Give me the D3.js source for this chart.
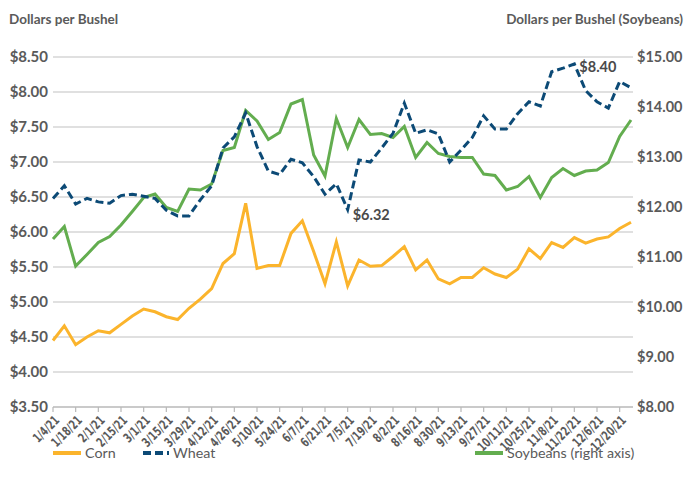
<!DOCTYPE html>
<html>
<head>
<meta charset="utf-8">
<script src="https://cdn.jsdelivr.net/npm/d3@7"></script>
<style>
  body { margin: 0; background: #fff; }
  text { font-family: Lato, "Open Sans", sans-serif; }
</style>
</head>
<body>
<div id="graph"></div>
<script>
var weeks = ["1/4/21","1/11/21","1/18/21","1/25/21","2/1/21","2/8/21","2/15/21","2/22/21",
  "3/1/21","3/8/21","3/15/21","3/22/21","3/29/21","4/5/21","4/12/21","4/19/21","4/26/21",
  "5/3/21","5/10/21","5/17/21","5/24/21","5/31/21","6/7/21","6/14/21","6/21/21","6/28/21",
  "7/5/21","7/12/21","7/19/21","7/26/21","8/2/21","8/9/21","8/16/21","8/23/21","8/30/21",
  "9/6/21","9/13/21","9/20/21","9/27/21","10/4/21","10/11/21","10/18/21","10/25/21",
  "11/1/21","11/8/21","11/15/21","11/22/21","11/29/21","12/6/21","12/13/21","12/20/21","12/27/21"];

var corn = [4.45,4.66,4.39,4.50,4.59,4.56,4.68,4.80,4.90,4.86,4.79,4.75,4.91,5.04,5.19,5.55,5.69,
  6.41,5.48,5.52,5.52,5.98,6.16,5.72,5.26,5.86,5.23,5.60,5.51,5.52,5.65,5.79,5.46,5.60,5.33,
  5.26,5.35,5.35,5.49,5.40,5.35,5.47,5.76,5.62,5.85,5.78,5.92,5.84,5.90,5.93,6.05,6.14];

var wheat = [6.48,6.66,6.40,6.48,6.43,6.41,6.52,6.54,6.51,6.48,6.31,6.23,6.23,6.46,6.66,7.20,7.36,
  7.70,7.22,6.87,6.82,7.04,6.99,6.79,6.54,6.69,6.32,7.03,7.00,7.20,7.41,7.84,7.41,7.46,7.40,
  7.00,7.17,7.35,7.66,7.47,7.47,7.69,7.86,7.80,8.29,8.34,8.40,8.02,7.86,7.77,8.15,8.06];

var soybeans = [11.36,11.61,10.82,11.05,11.29,11.41,11.64,11.91,12.19,12.26,11.99,11.91,12.36,12.34,
  12.46,13.13,13.19,13.93,13.72,13.35,13.49,14.06,14.15,13.04,12.62,13.77,13.19,13.75,13.45,13.47,
  13.39,13.61,12.99,13.29,13.07,13.01,12.99,12.99,12.66,12.63,12.34,12.41,12.61,12.19,12.59,12.77,
  12.63,12.72,12.74,12.89,13.41,13.74];

var leftTicks = [3.5,4,4.5,5,5.5,6,6.5,7,7.5,8,8.5];
var rightTicks = [8,9,10,11,12,13,14,15];
var callouts = [{series: "wheat", index: 26, text: "$6.32"}, {series: "wheat", index: 46, text: "$8.40"}];

var w = 684, h = 486;
var plotL = 53, plotR = 633, plotT = 57, plotB = 407;

var vis = d3.select("#graph").append("svg")
  .attr("width", w)
  .attr("height", h);

var x = d3.scalePoint().domain(weeks).range([plotL, 631]);
var y = d3.scaleLinear().domain([3.5, 8.5]).range([plotB, plotT]);
var y2 = d3.scaleLinear().domain([8, 15]).range([plotB, plotT]);

// gridlines
vis.selectAll(".grid")
  .data(leftTicks)
  .enter()
  .append("line")
  .attr("x1", plotL)
  .attr("x2", plotR)
  .attr("y1", function(d) { return y(d); })
  .attr("y2", function(d) { return y(d); })
  .style("stroke", function(d) { return d == 3.5 ? "#b8b8b8" : "#d6d6d6"; })
  .style("stroke-width", 1.6);

// left axis labels
vis.selectAll(".ly")
  .data(leftTicks)
  .enter()
  .append("text")
  .attr("x", 48)
  .attr("y", function(d) { return y(d); })
  .attr("dy", "0.35em")
  .attr("text-anchor", "end")
  .style("font-size", "15px")
  .style("font-weight", "bold")
  .style("fill", "#5a5a5a")
  .text(function(d) { return "$" + d.toFixed(2); });

// right axis labels
vis.selectAll(".ry")
  .data(rightTicks)
  .enter()
  .append("text")
  .attr("x", 637)
  .attr("y", function(d) { return y2(d); })
  .attr("dy", "0.35em")
  .style("font-size", "14.5px")
  .style("font-weight", "bold")
  .style("fill", "#5a5a5a")
  .text(function(d) { return "$" + d.toFixed(2); });

// titles
vis.append("text").attr("x", 9).attr("y", 24)
  .style("font-size", "13.5px").style("font-weight", "bold").style("fill", "#5a5a5a")
  .text("Dollars per Bushel");
vis.append("text").attr("x", 683).attr("y", 24).attr("text-anchor", "end")
  .style("font-size", "13.5px").style("font-weight", "bold").style("fill", "#5a5a5a")
  .text("Dollars per Bushel (Soybeans)");

// x ticks and labels, every other week
var labelled = weeks.filter(function(d, i) { return i % 2 == 0; });
vis.selectAll(".xt")
  .data(labelled)
  .enter()
  .append("line")
  .attr("x1", function(d) { return x(d); })
  .attr("x2", function(d) { return x(d); })
  .attr("y1", plotB)
  .attr("y2", plotB + 5)
  .style("stroke", "#b8b8b8")
  .style("stroke-width", 1.2);

vis.selectAll(".xl")
  .data(labelled)
  .enter()
  .append("text")
  .attr("transform", function(d) { return "translate(" + (x(d) + 4) + "," + (plotB + 11) + ") rotate(-45) scale(0.76,1)"; })
  .attr("text-anchor", "end")
  .attr("dy", "0.35em")
  .style("font-family", "'Liberation Sans Narrow', 'DejaVu Sans Condensed', 'Liberation Sans', sans-serif")
  .style("font-size", "13px")
  .style("font-weight", "bold")
  .style("fill", "#5a5a5a")
  .text(function(d) { return d; });

// lines
var colors = {corn: "#fbb42c", wheat: "#0c4a76", soybeans: "#63ad4f"};
var series = [
  {name: "soybeans", values: soybeans, scale: y2, dash: null},
  {name: "wheat", values: wheat, scale: y, dash: "8,4"},
  {name: "corn", values: corn, scale: y, dash: null}
];

series.forEach(function(s) {
  var line = d3.line()
    .x(function(d, i) { return x(weeks[i]); })
    .y(function(d) { return s.scale(d); });
  vis.append("path")
    .datum(s.values)
    .attr("d", line)
    .style("fill", "none")
    .style("stroke", colors[s.name])
    .style("stroke-width", 3)
    .style("stroke-linejoin", "miter")
    .style("stroke-dasharray", s.dash);
});

// callouts
var lookup = {corn: corn, wheat: wheat, soybeans: soybeans};
vis.selectAll(".callout")
  .data(callouts)
  .enter()
  .append("text")
  .attr("x", function(d) { return x(weeks[d.index]) + 5; })
  .attr("y", function(d) { return y(lookup[d.series][d.index]) + (d.index == 26 ? 5 : 3); })
  .attr("dy", "0.35em")
  .style("font-size", "14.5px")
  .style("font-weight", "bold")
  .style("fill", "#4a4a4a")
  .text(function(d) { return d.text; });

// legend
var legend = [
  {name: "corn", label: "Corn", x: 53, dash: null},
  {name: "wheat", label: "Wheat", x: 143, dash: "8,4"},
  {name: "soybeans", label: "Soybeans (right axis)", x: 475, dash: null}
];
var lg = vis.selectAll(".lg")
  .data(legend)
  .enter()
  .append("g")
  .attr("transform", function(d) { return "translate(" + d.x + ",453)"; });
lg.append("line")
  .attr("x1", 0).attr("x2", function(d) { return d.name == "wheat" ? 26 : 28; })
  .attr("y1", 0).attr("y2", 0)
  .style("stroke", function(d) { return colors[d.name]; })
  .style("stroke-width", 4)
  .style("stroke-dasharray", function(d) { return d.dash; });
lg.append("text")
  .attr("x", function(d) { return d.name == "wheat" ? 30 : 32; })
  .attr("dy", "0.35em")
  .style("font-size", "14.3px")
  .style("fill", "#5a5a5a")
  .text(function(d) { return d.label; });
</script>
</body>
</html>
